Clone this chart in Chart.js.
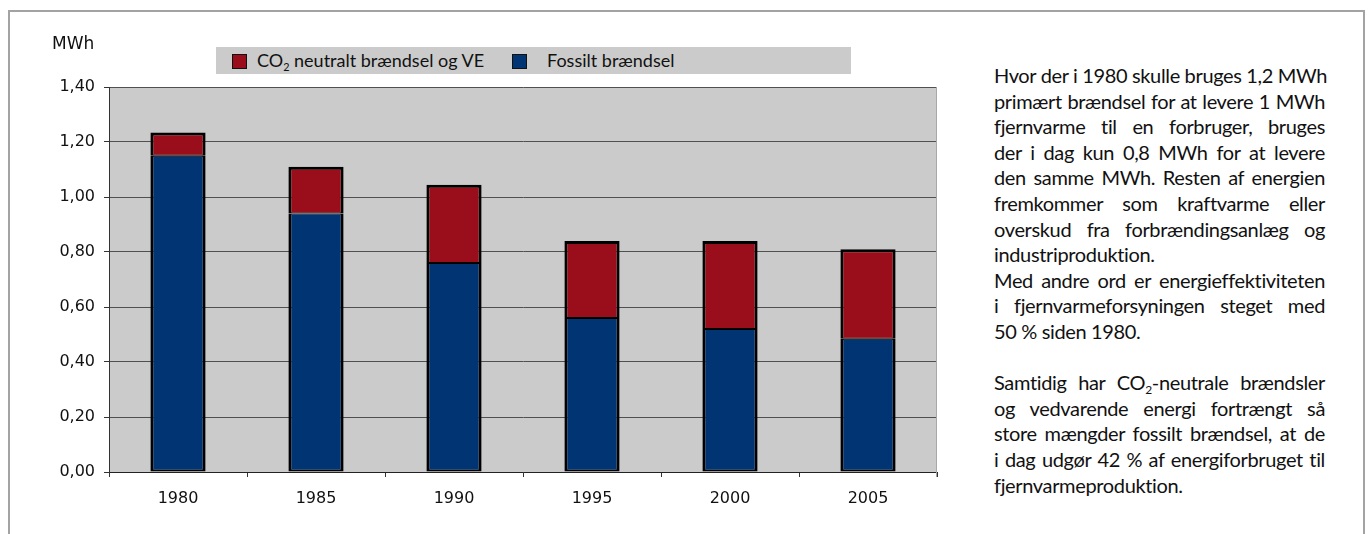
<!DOCTYPE html>
<html lang="da">
<head>
<meta charset="utf-8">
<title>Brændselsforbrug pr. MWh fjernvarme</title>
<script src="https://cdn.jsdelivr.net/npm/chart.js@4.4.1/dist/chart.umd.min.js"></script>
<style>
  html, body { margin: 0; padding: 0; background: #fff; }
  body { width: 1370px; height: 534px; position: relative; overflow: hidden; }
  #frame { position: absolute; left: 8px; top: 10px; width: 1357px; height: 600px;
           border: 2px solid #a3a3a3; box-sizing: border-box; }
  #chart { position: absolute; left: 0; top: 0; }
  #legend { position: absolute; left: 216px; top: 47px; width: 635px; height: 27px;
            background: #cbcbcb; font-family: Lato, "Open Sans", sans-serif; font-size: 18px;
            color: #111; }
  #legend .item { position: absolute; top: 0; height: 27px; line-height: 27px; white-space: nowrap; }
  #legend .sw { position: absolute; top: 7px; width: 13px; height: 13px; border: 1px solid #111; box-sizing: content-box; }
  #legend .txt { position: absolute; top: 0; }
  sub { font-size: 0.6em; vertical-align: -0.35em; line-height: 0; }
  #note { position: absolute; left: 994px; top: 63px; width: 331px;
          font-family: Lato, "Open Sans", sans-serif; font-size: 20px; letter-spacing: -0.35px;
          line-height: 25.6px; color: #111; }
  #note .l { white-space: nowrap; text-align: justify; text-align-last: justify; height: 25.6px; }
  #note .e { text-align-last: left; }
</style>
</head>
<body>
<div id="frame"></div>
<canvas id="chart" width="960" height="534"></canvas>
<div id="legend"></div>
<div id="note">
  <div class="l">Hvor der i 1980 skulle bruges 1,2 MWh</div>
  <div class="l">primært brændsel for at levere 1 MWh</div>
  <div class="l">fjernvarme til en forbruger, bruges</div>
  <div class="l">der i dag kun 0,8 MWh for at levere</div>
  <div class="l">den samme MWh. Resten af energien</div>
  <div class="l">fremkommer som kraftvarme eller</div>
  <div class="l">overskud fra forbrændingsanlæg og</div>
  <div class="l e">industriproduktion.</div>
  <div class="l">Med andre ord er energieffektiviteten</div>
  <div class="l">i fjernvarmeforsyningen steget med</div>
  <div class="l e">50 % siden 1980.</div>
  <div class="l e"></div>
  <div class="l">Samtidig har CO<sub>2</sub>-neutrale brændsler</div>
  <div class="l">og vedvarende energi fortrængt så</div>
  <div class="l">store mængder fossilt brændsel, at de</div>
  <div class="l">i dag udgør 42 % af energiforbruget til</div>
  <div class="l e">fjernvarmeproduktion.</div>
</div>
<script>
// Brændsel pr. leveret MWh fjernvarme (MWh)
const years = ['1980', '1985', '1990', '1995', '2000', '2005'];
const fossilFuel = [1.15, 0.94, 0.76, 0.56, 0.52, 0.485];
const co2Neutral = [0.085, 0.17, 0.285, 0.28, 0.32, 0.325];
const seriesNames = ['Fossilt brændsel', 'CO₂ neutralt brændsel og VE'];
const seriesColors = ['#003473', '#9a0d1a'];
const yTicks = [0, 0.2, 0.4, 0.6, 0.8, 1.0, 1.2, 1.4];
const unitLabel = 'MWh';

const tickFont = { family: '"DejaVu Sans", Verdana, sans-serif', size: 16 };

// Grey plot background, light right edge and the unit label
const plotDecor = {
  id: 'plotDecor',
  beforeDraw(chart) {
    const { ctx, chartArea: a } = chart;
    ctx.save();
    ctx.fillStyle = '#cbcbcb';
    ctx.fillRect(a.left, a.top, a.right - a.left, a.bottom - a.top);
    ctx.restore();
  },
  afterDraw(chart) {
    const { ctx, chartArea: a } = chart;
    ctx.save();
    ctx.strokeStyle = '#a8a8a8';
    ctx.lineWidth = 1;
    ctx.beginPath();
    ctx.moveTo(a.right - 0.5, a.top);
    ctx.lineTo(a.right - 0.5, a.bottom + 5);
    ctx.stroke();
    ctx.fillStyle = '#111';
    ctx.font = '17px "DejaVu Sans", Verdana, sans-serif';
    ctx.textBaseline = 'middle';
    ctx.textAlign = 'left';
    ctx.fillText(unitLabel, 52, 45);
    ctx.restore();
  }
};

const chart = new Chart(document.getElementById('chart'), {
  type: 'bar',
  data: {
    labels: years,
    datasets: [
      {
        label: seriesNames[0],
        data: fossilFuel,
        backgroundColor: seriesColors[0],
        borderColor: '#000',
        borderWidth: { top: 1, left: 3, right: 3, bottom: 2 },
        borderSkipped: false
      },
      {
        label: seriesNames[1],
        data: co2Neutral,
        backgroundColor: seriesColors[1],
        borderColor: '#000',
        borderWidth: { top: 3, left: 3, right: 3, bottom: 1 },
        borderSkipped: false
      }
    ]
  },
  options: {
    responsive: false,
    animation: false,
    devicePixelRatio: 1,
    layout: { padding: { left: 0, right: 23, top: 87, bottom: 22 } },
    datasets: { bar: { categoryPercentage: 1, barPercentage: 0.4 } },
    plugins: { legend: { display: false }, tooltip: { enabled: false } },
    scales: {
      x: {
        stacked: true,
        afterFit(s) { s.height = 40; },
        grid: { display: true, drawOnChartArea: false, drawTicks: true, tickLength: 5,
                color: '#333', offset: true },
        border: { display: true, color: '#222', width: 1 },
        ticks: { color: '#111', font: tickFont, padding: 12 }
      },
      y: {
        stacked: true,
        min: 0,
        max: 1.4,
        afterFit(s) { s.width = 109; },
        afterBuildTicks(s) { s.ticks = yTicks.map(v => ({ value: v })); },
        grid: { color: '#505050', lineWidth: 1, tickLength: 5, tickColor: '#333' },
        border: { display: true, color: '#333', width: 1 },
        ticks: {
          color: '#111', font: tickFont, padding: 9,
          callback: v => v.toFixed(2).replace('.', ',')
        }
      }
    }
  },
  plugins: [plotDecor]
});

// Legend built from the datasets, top series first
const legendEl = document.getElementById('legend');
const legendPos = [{ sw: 16, tx: 41 }, { sw: 296, tx: 331 }];
chart.data.datasets.slice().reverse().forEach((ds, i) => {
  const item = document.createElement('div');
  item.className = 'item';
  item.style.left = '0px';
  const sw = document.createElement('span');
  sw.className = 'sw';
  sw.style.left = legendPos[i].sw + 'px';
  sw.style.background = ds.backgroundColor;
  const tx = document.createElement('span');
  tx.className = 'txt';
  tx.style.left = legendPos[i].tx + 'px';
  tx.innerHTML = ds.label.replace('₂', '<sub>2</sub>');
  item.appendChild(sw);
  item.appendChild(tx);
  legendEl.appendChild(item);
});
</script>
</body>
</html>
